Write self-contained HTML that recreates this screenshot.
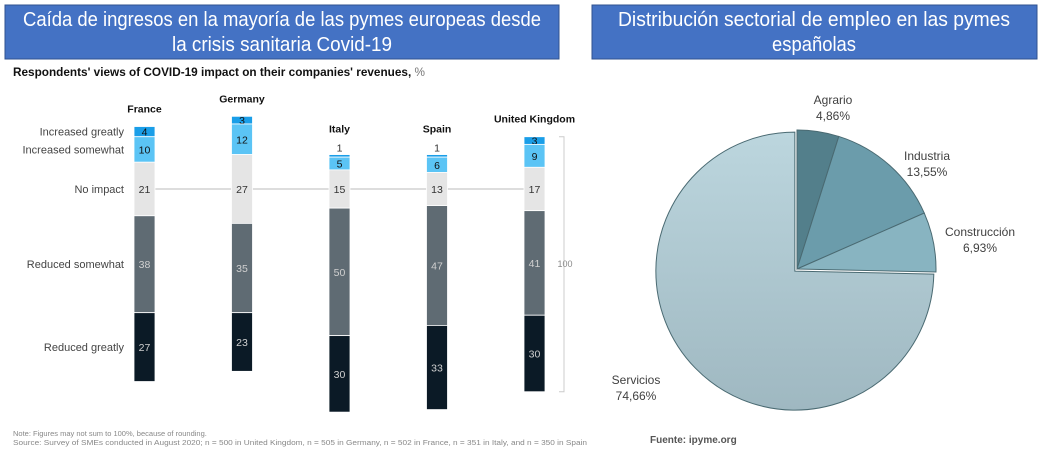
<!DOCTYPE html>
<html><head><meta charset="utf-8"><style>
body{margin:0;background:#fff;width:1044px;height:457px;overflow:hidden;font-family:"Liberation Sans",sans-serif}
</style></head><body>
<svg id="s" width="1044" height="457" xmlns="http://www.w3.org/2000/svg">
<defs>
<linearGradient id="gS" x1="0" y1="0" x2="0" y2="1"><stop offset="0" stop-color="#bcd6de"/><stop offset="1" stop-color="#9fb8c1"/></linearGradient>
</defs>
<rect x="5" y="5" width="554" height="54" fill="#4472c4" stroke="#2f528f"/>
<text x="282" y="26" fill="#fff" font-size="20" text-anchor="middle" textLength="518" lengthAdjust="spacingAndGlyphs">Caída de ingresos en la mayoría de las pymes europeas desde</text>
<text x="282" y="51" fill="#fff" font-size="20" text-anchor="middle" textLength="220" lengthAdjust="spacingAndGlyphs">la crisis sanitaria Covid-19</text>
<rect x="592" y="5" width="445" height="54" fill="#4472c4" stroke="#2f528f"/>
<text x="814" y="26" fill="#fff" font-size="20" text-anchor="middle" textLength="392" lengthAdjust="spacingAndGlyphs">Distribución sectorial de empleo en las pymes</text>
<text x="814" y="51" fill="#fff" font-size="20" text-anchor="middle" textLength="84" lengthAdjust="spacingAndGlyphs">españolas</text>
<text x="13" y="76" font-size="11.5" font-weight="bold" fill="#111" textLength="412" lengthAdjust="spacingAndGlyphs">Respondents' views of COVID-19 impact on their companies' revenues, <tspan font-weight="normal" fill="#777">%</tspan></text>
<line x1="144" y1="189" x2="535" y2="189" stroke="#bbb" stroke-width="1"/>
<g id="bars"></g>
<g id="pie"></g>
<text x="13" y="436" font-size="7.5" fill="#888">Note: Figures may not sum to 100%, because of rounding.</text>
<text x="13" y="445" font-size="7.5" fill="#888" textLength="574" lengthAdjust="spacingAndGlyphs">Source: Survey of SMEs conducted in August 2020; n = 500 in United Kingdom, n = 505 in Germany, n = 502 in France, n = 351 in Italy, and n = 350 in Spain</text>
<text x="650" y="443" font-size="10" font-weight="bold" fill="#555">Fuente: ipyme.org</text>
</svg>
<script>
const countries=["France","Germany","Italy","Spain","United Kingdom"];
const categories=["Increased greatly","Increased somewhat","No impact","Reduced somewhat","Reduced greatly"];
const incGreatly=[4,3,1,1,3];
const incSomewhat=[10,12,5,6,9];
const noImpact=[21,27,15,13,17];
const redSomewhat=[38,35,50,47,41];
const redGreatly=[27,23,30,33,30];
const sectors=["Agrario","Industria","Construcción","Servicios"];
const shares=[4.86,13.55,6.93,74.66];
const shareLabels=["4,86%","13,55%","6,93%","74,66%"];

const NS="http://www.w3.org/2000/svg";
function mk(t,a,p){const e=document.createElementNS(NS,t);for(const k in a)e.setAttribute(k,a[k]);p.appendChild(e);return e;}
const bars=document.getElementById('bars');
const PX=2.55, MID=189, X0=134, DX=97.5, BW=21;
const xOf=i=>X0+i*DX;
const yScale=v=>v*PX;
const colors=["#1a9ee8","#5bc4f5","#e5e5e5","#5f6b73","#0b1a26"];
const txtCol=["#111","#111","#333","#d0d0d0","#d0d0d0"];
const series=[incGreatly,incSomewhat,noImpact,redSomewhat,redGreatly];
let uk={};
countries.forEach((c,i)=>{
  const x=xOf(i);
  let y=MID-yScale(noImpact[i]/2+incSomewhat[i]+incGreatly[i]);
  const top=y;
  series.forEach((s,k)=>{
    const h=yScale(s[i]);
    const r=mk('rect',{x:x,y:y,width:BW,height:h,fill:colors[k],stroke:'#fff','stroke-width':0.8},bars);
    
    
    const small=s[i]<3;
    const t=mk('text',{x:x+BW/2,y:small?y-3:y+h/2+4,'font-size':10.5,'text-anchor':'middle',fill:small?'#333':txtCol[k]},bars);
    t.textContent=s[i];
    
    
    y+=h;
  });
  if(i===4)uk={top:top,bottom:y,x:x};
  const small=incGreatly[i]<3;
  const ct=mk('text',{x:x+BW/2,y:top-(small?22:14),'font-size':10.5,'font-weight':'bold','text-anchor':'middle',fill:'#111'},bars);
  ct.textContent=c;
  
  
});
{let y=MID-yScale(noImpact[0]/2+incSomewhat[0]+incGreatly[0]);
 series.forEach((s,k)=>{const h=yScale(s[0]);
  const t=mk('text',{x:124,y:y+h/2+4,'font-size':11,'text-anchor':'end',fill:'#444'},bars);
  t.textContent=categories[k];
  
  
  y+=h;});}
const br=mk('path',{d:`M559 ${uk.top}H564V${uk.bottom}H559`,fill:'none',stroke:'#ccc'},bars);


const bt=mk('text',{x:565,y:(uk.top+uk.bottom)/2+3,'font-size':9,'text-anchor':'middle',fill:'#888'},bars);
bt.textContent='100';



const pie=document.getElementById('pie');
const CX=797,CY=269,R=139;
const pieCols=["#537f8b","#6b9cab","#88b4c1","url(#gS)"];
const labPos=[[833,104],[927,160],[980,236],[636,384]];
const total=shares.reduce((a,b)=>a+b,0);
let a0=0;
shares.forEach((v,i)=>{
  const a1=a0+v/total*2*Math.PI;
  const off=i===3?3:0, mid=(a0+a1)/2;
  const cx=CX+off*Math.sin(mid), cy=CY-off*Math.cos(mid);
  const p=(a)=>[cx+R*Math.sin(a),cy-R*Math.cos(a)];
  const [x0,y0]=p(a0),[x1,y1]=p(a1);
  const path=mk('path',{d:`M${cx} ${cy}L${x0} ${y0}A${R} ${R} 0 ${a1-a0>Math.PI?1:0} 1 ${x1} ${y1}Z`,fill:pieCols[i],stroke:'#4a6a72','stroke-width':1},pie);
  
  
  const [lx,ly]=labPos[i];
  const t=mk('text',{x:lx,y:ly,'font-size':12,'text-anchor':'middle',fill:'#404040'},pie);
  t.textContent=sectors[i];
  
  
  const t2=mk('text',{x:lx,y:ly+16,'font-size':12,'text-anchor':'middle',fill:'#404040'},pie);
  t2.textContent=shareLabels[i];
  
  
  a0=a1;
});
</script>
</body></html>
